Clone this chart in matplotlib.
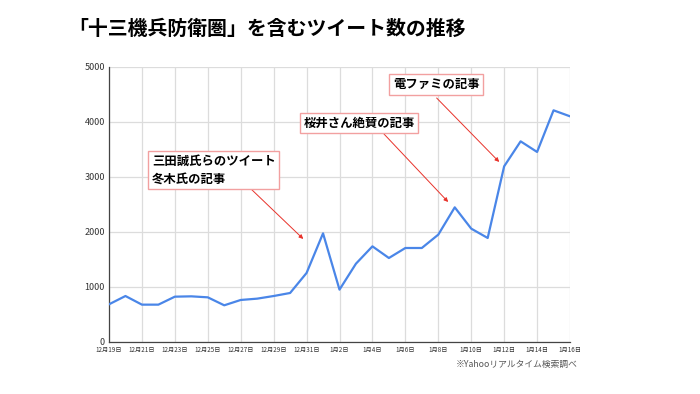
import matplotlib
matplotlib.use("Agg")
import matplotlib.pyplot as plt

plt.rcParams['font.family'] = ['Noto Sans CJK JP', 'DejaVu Sans']

# daily tweet counts, 12/19 .. 1/16
dates = ['12月19日', '12月20日', '12月21日', '12月22日', '12月23日', '12月24日',
         '12月25日', '12月26日', '12月27日', '12月28日', '12月29日', '12月30日',
         '12月31日', '1月1日', '1月2日', '1月3日', '1月4日', '1月5日', '1月6日',
         '1月7日', '1月8日', '1月9日', '1月10日', '1月11日', '1月12日', '1月13日',
         '1月14日', '1月15日', '1月16日']
counts = [685, 836, 679, 679, 824, 830, 812, 667, 764, 788, 836, 891,
          1255, 1975, 952, 1424, 1739, 1527, 1709, 1709, 1952, 2448,
          2061, 1891, 3194, 3648, 3455, 4212, 4103]

notes = ['三田誠氏らのツイート\n冬木氏の記事', '桜井さん絶賛の記事', '電ファミの記事']
note_xy = [(2.6, 3127), (11.8, 3982), (17.25, 4682)]
arrow_from = [(8.5, 2818), (16.7, 3782), (19.9, 4436)]
arrow_to = [(11.8, 1873), (20.6, 2545), (23.7, 3273)]

fig = plt.figure(figsize=(7, 3.94), dpi=100)
ax = fig.add_axes([0.1557, 0.132, 0.6586, 0.698])

x = list(range(len(dates)))
ax.plot(x, counts, color='#4a86e8', lw=1.6, zorder=3)

ax.set_xlim(0, len(dates) - 1)
ax.set_ylim(0, 5000)
ax.set_xticks(x[::2])
ax.set_xticklabels(dates[::2], fontsize=4.5, color='#333333')
ax.set_yticks([0, 1000, 2000, 3000, 4000, 5000])
ax.set_yticklabels(['0', '1000', '2000', '3000', '4000', '5000'],
                   fontsize=6.5, color='#333333')
ax.tick_params(length=0)
ax.tick_params(axis='x', pad=3)
ax.tick_params(axis='y', pad=3)
ax.grid(True, color='#dcdcdc', lw=0.9)
ax.set_axisbelow(True)
for s in ['top', 'right']:
    ax.spines[s].set_visible(False)
for s in ['left', 'bottom']:
    ax.spines[s].set_color('#444444')
    ax.spines[s].set_linewidth(0.9)

for txt, pos, a0, a1 in zip(notes, note_xy, arrow_from, arrow_to):
    ax.text(pos[0], pos[1], txt, fontsize=8.9, fontweight='bold', ha='left',
            va='center', linespacing=1.5, zorder=5,
            bbox=dict(boxstyle='square,pad=0.3', fc='white', ec='#f2a0a0', lw=1))
    ax.annotate('', xy=a1, xytext=a0, zorder=4,
                arrowprops=dict(arrowstyle='-|>', color='#e8322a', lw=0.7,
                                mutation_scale=6, shrinkA=0, shrinkB=0))

fig.text(0.097, 0.929, '「十三機兵防衛圏」を含むツイート数の推移', fontsize=14.3,
         fontweight='bold', ha='left', va='center')
fig.text(0.651, 0.076, '※Yahooリアルタイム検索調べ', fontsize=6.3,
         color='#555555', ha='left', va='center')

fig.savefig('out.png', dpi=100, facecolor='white')
